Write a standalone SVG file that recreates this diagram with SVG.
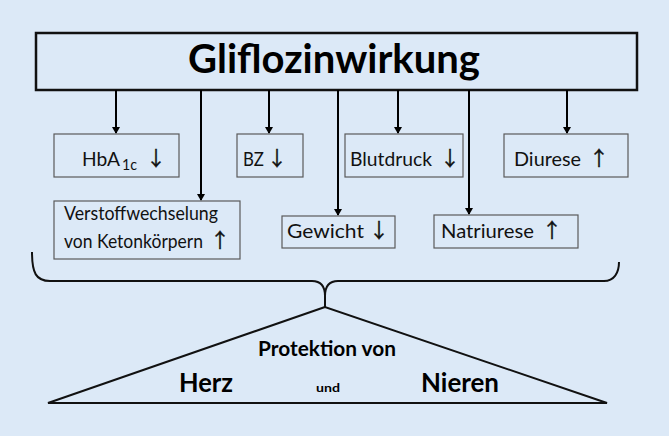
<svg xmlns="http://www.w3.org/2000/svg" width="669" height="436" viewBox="0 0 669 436">
<style>
.bg{fill:#dce9f7}
.box{fill:#dce9f7;stroke:#5a5a5a;stroke-width:1.2}
.main{fill:#dce9f7;stroke:#111;stroke-width:2.5}
.t{font-family:Lato,"Open Sans",sans-serif;font-size:20px;fill:#111}
.ar{font-family:"Noto Sans CJK JP","DejaVu Sans",sans-serif;font-size:20px;fill:#111;stroke:#111;stroke-width:0.4;text-anchor:middle}
.b{font-family:Lato,"Open Sans",sans-serif;font-weight:bold;fill:#000}
.con{stroke:#000;stroke-width:2;fill:none}
.ln{stroke:#111;stroke-width:2;fill:none}
</style>
<defs>
<marker id="ah" markerWidth="8" markerHeight="8" refX="6" refY="4" orient="auto" markerUnits="userSpaceOnUse">
<path d="M0,0 L7,4 L0,8 z" fill="#000"/>
</marker>
</defs>
<rect class="bg" x="0" y="0" width="669" height="436"/>
<g id="main">
<rect class="main" x="36" y="33" width="601" height="57"/>
<text class="b" x="334" y="73" font-size="40" text-anchor="middle" textLength="292" lengthAdjust="spacingAndGlyphs">Gliflozinwirkung</text>
</g>
<g id="connectors">
<line class="con" x1="116" y1="90" x2="116" y2="133" marker-end="url(#ah)"/>
<line class="con" x1="201" y1="90" x2="201" y2="200" marker-end="url(#ah)"/>
<line class="con" x1="269" y1="90" x2="269" y2="133" marker-end="url(#ah)"/>
<line class="con" x1="338" y1="90" x2="338" y2="215" marker-end="url(#ah)"/>
<line class="con" x1="398" y1="90" x2="398" y2="133" marker-end="url(#ah)"/>
<line class="con" x1="469" y1="90" x2="469" y2="214" marker-end="url(#ah)"/>
<line class="con" x1="567" y1="90" x2="567" y2="133" marker-end="url(#ah)"/>
</g>
<g id="hba1c">
<rect class="box" x="54" y="134" width="125" height="43"/>
<text class="t" x="82" y="166"><tspan textLength="38" lengthAdjust="spacingAndGlyphs">HbA</tspan><tspan x="122" y="170" font-size="16" textLength="15" lengthAdjust="spacingAndGlyphs">1c</tspan><tspan class="ar" x="156" y="166">↓</tspan></text>
</g>
<g id="bz">
<rect class="box" x="237" y="134" width="66" height="43"/>
<text class="t" x="243" y="166"><tspan textLength="21" lengthAdjust="spacingAndGlyphs">BZ</tspan><tspan class="ar" x="277">↓</tspan></text>
</g>
<g id="blutdruck">
<rect class="box" x="345" y="134" width="118" height="43"/>
<text class="t" x="350" y="166"><tspan textLength="82" lengthAdjust="spacingAndGlyphs">Blutdruck</tspan><tspan class="ar" x="450">↓</tspan></text>
</g>
<g id="diurese">
<rect class="box" x="504" y="134" width="124" height="43"/>
<text class="t" x="514" y="166"><tspan textLength="67" lengthAdjust="spacingAndGlyphs">Diurese</tspan><tspan class="ar" x="599">↑</tspan></text>
</g>
<g id="keton">
<rect class="box" x="54" y="201" width="186" height="58"/>
<text class="t" x="64" y="220" textLength="154" lengthAdjust="spacingAndGlyphs">Verstoffwechselung</text>
<text class="t" x="64" y="248"><tspan font-size="19" textLength="139" lengthAdjust="spacingAndGlyphs">von Ketonkörpern</tspan><tspan class="ar" x="220">↑</tspan></text>
</g>
<g id="gewicht">
<rect class="box" x="282" y="216" width="113" height="32"/>
<text class="t" x="287" y="238"><tspan textLength="77" lengthAdjust="spacingAndGlyphs">Gewicht</tspan><tspan class="ar" x="379">↓</tspan></text>
</g>
<g id="natriurese">
<rect class="box" x="434" y="215" width="144" height="33"/>
<text class="t" x="441" y="238"><tspan textLength="93" lengthAdjust="spacingAndGlyphs">Natriurese</tspan><tspan class="ar" x="552">↑</tspan></text>
</g>
<g id="brace">
<path class="ln" d="M32,252 C32,273 36,281 50,281 L312,281 C320,281 325,286 325,296 L325,307 M325,296 C325,286 330,281 338,281 L604,281 C614,281 619,273 619,262"/>
</g>
<g id="protektion">
<path class="ln" d="M325,307 L48,403 L607,403 Z"/>
<text class="b" x="327" y="356" font-size="20" text-anchor="middle" textLength="138" lengthAdjust="spacingAndGlyphs">Protektion von</text>
<text class="b" x="179" y="392" font-size="27" textLength="54" lengthAdjust="spacingAndGlyphs">Herz</text>
<text class="b" x="316" y="392" font-size="12" textLength="24" lengthAdjust="spacingAndGlyphs">und</text>
<text class="b" x="421" y="392" font-size="27" textLength="78" lengthAdjust="spacingAndGlyphs">Nieren</text>
</g>
</svg>
